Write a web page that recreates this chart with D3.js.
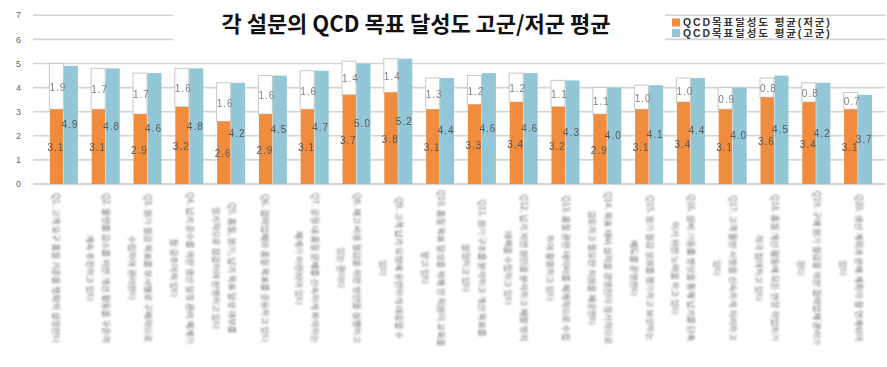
<!DOCTYPE html>
<html><head><meta charset="utf-8">
<script src="https://cdn.jsdelivr.net/npm/d3@7/dist/d3.min.js"></script>
<style>
html,body{margin:0;padding:0;background:#fff;}
svg{display:block;}
</style></head>
<body><svg id="chart" width="887" height="367"></svg>
<script>
const title = "각 설문의 QCD 목표 달성도 고군/저군 평균";
const seriesNames = ["QCD목표달성도 평균(저군)", "QCD목표달성도 평균(고군)"];
const categories = [
  "Q1. 고객 요구 품질 기준을 명확히 설정한다",
  "Q2. 불량률 감소를 위한 개선 활동을 꾸준히\n계속 추진하고 있다",
  "Q3. 원가 절감 목표를 부서별로 구체적으로\n수립하여 관리한다",
  "Q4. 납기 준수를 위한 생산 일정 관리 체계가\n잘 갖추어져 있다",
  "Q5. 품질, 원가, 납기 목표 달성 여부를\n정기적으로 점검하여 반영하고 있다",
  "Q6. 협력업체와 품질 목표를 공유하고 있다",
  "Q7. 공정 내 품질 문제를 신속하게 파악하는\n체계가 마련되어 있다",
  "Q8. 재고 비용 절감을 위한 방안을 실행하고\n있는 편이다",
  "Q9. 고객 납기 요청에 유연하게 대응할 수\n있다",
  "Q10. 품질 목표 달성을 위해 전 직원이 교육을\n받고 있다",
  "Q11. 원가 구조를 분석하고 개선 목표를\n설정하고 있다",
  "Q12. 납기 지연 원인을 분석하고 재발 방지\n대책을 수립하고 있다",
  "Q13. 품질 관련 데이터를 체계적으로 수집\n하여 활용하고 있다",
  "Q14. 목표 대비 실적을 경영진이 정기적으로\n검토하고 필요한 지원을 제공한다",
  "Q15. 원가 절감 성과를 평가하고 보상하는\n제도를 운영한다",
  "Q16. 설비 가동률 향상을 통해 납기를 단축\n하기 위한 노력을 하고 있다",
  "Q17. 고객 불만 사항을 신속하게 처리하고\n있다",
  "Q18. 품질 개선 활동에 모든 현장 작업자가\n적극 참여하고 있다",
  "Q19. 구매 원가 절감을 위한 협력업체 관리가\n된다",
  "Q20. 생산 계획과 판매 계획이 잘 연계되어\n있다"
];
const lowValues  = [3.1,3.1,2.9,3.2,2.6,2.9,3.1,3.7,3.8,3.1,3.3,3.4,3.2,2.9,3.1,3.4,3.1,3.6,3.4,3.1];
const highValues = [4.9,4.8,4.6,4.8,4.2,4.5,4.7,5.0,5.2,4.4,4.6,4.6,4.3,4.0,4.1,4.4,4.0,4.5,4.2,3.7];
const gapValues  = [1.9,1.7,1.7,1.6,1.6,1.6,1.6,1.4,1.4,1.3,1.2,1.2,1.1,1.1,1.0,1.0,0.9,0.8,0.8,0.7];
const yTicks = [0,1,2,3,4,5,6,7];

const colors = {low:"#F08C3E", high:"#93C6D6"};
const svg = d3.select("#chart");
const defs = svg.append("defs");
defs.append("filter").attr("id","blur").attr("x","-30%").attr("y","-5%").attr("width","160%").attr("height","110%")
  .append("feGaussianBlur").attr("stdDeviation",0.8);
defs.append("filter").attr("id","soft")
  .append("feGaussianBlur").attr("stdDeviation",0.35);

const y = d3.scaleLinear().domain([0,7]).range([184,15.3]);
const x = d3.scaleBand().domain(categories).range([43,879]).paddingInner(0.33).paddingOuter(0.165);
const xs = d3.scaleBand().domain(["low","high"]).range([0,x.bandwidth()]);

// gridlines
svg.append("g").selectAll("line").data(yTicks.slice(1)).join("line")
  .attr("x1",33).attr("x2",885)
  .attr("y1",d=>y(d)).attr("y2",d=>y(d))
  .attr("stroke","#d4d4d4").attr("stroke-width",1.6);
// axis baseline
svg.append("line").attr("x1",33).attr("x2",885).attr("y1",y(0)).attr("y2",y(0))
  .attr("stroke","#c4c4c4").attr("stroke-width",1.6);

// white title panel
svg.append("rect").attr("x",173).attr("y",4).attr("width",492).attr("height",48).attr("fill","#fff");

// y tick labels
svg.append("g").selectAll("text").data(yTicks).join("text")
  .attr("x",21).attr("y",d=>y(d)).attr("dy","0.35em").attr("text-anchor","end")
  .attr("font-family","Liberation Sans, Arial, sans-serif").attr("font-size",9)
  .attr("fill","#666").text(d=>d);

const idx = d3.range(categories.length);
const bars = svg.append("g");
bars.selectAll("rect.gap").data(idx).join("rect").attr("class","gap")
  .attr("x",i=>x(categories[i])+xs("low")-0.5)
  .attr("width",xs.bandwidth())
  .attr("y",i=>y(lowValues[i]+gapValues[i]))
  .attr("height",i=>y(lowValues[i])-y(lowValues[i]+gapValues[i]))
  .attr("fill","#fff").attr("stroke","#c8c8c8").attr("stroke-width",1);
bars.selectAll("rect.low").data(idx).join("rect").attr("class","low")
  .attr("x",i=>x(categories[i])+xs("low"))
  .attr("width",xs.bandwidth()-0.5)
  .attr("y",i=>y(lowValues[i]))
  .attr("height",i=>y(0)-y(lowValues[i]))
  .attr("fill",colors.low);
bars.selectAll("rect.high").data(idx).join("rect").attr("class","high")
  .attr("x",i=>x(categories[i])+xs("high"))
  .attr("width",xs.bandwidth())
  .attr("y",i=>y(highValues[i]))
  .attr("height",i=>y(0)-y(highValues[i]))
  .attr("fill",colors.high);

// value labels
const lab = svg.append("g").attr("font-family","Liberation Sans, Arial, sans-serif")
  .attr("font-size",10).attr("letter-spacing","1px").attr("text-anchor","middle").attr("filter","url(#soft)");
lab.selectAll("text.l").data(idx).join("text")
  .attr("x",i=>x(categories[i])+xs("low")+xs.bandwidth()/2-1)
  .attr("y",i=>(y(lowValues[i])+y(0))/2+1).attr("dy","0.35em")
  .attr("fill","#555").text(i=>lowValues[i].toFixed(1));
lab.selectAll("text.h").data(idx).join("text")
  .attr("x",i=>x(categories[i])+xs("high")+xs.bandwidth()/2-1)
  .attr("y",i=>(y(highValues[i])+y(0))/2).attr("dy","0.35em")
  .attr("fill","#555").text(i=>highValues[i].toFixed(1));
lab.selectAll("text.g").data(idx).join("text")
  .attr("x",i=>x(categories[i])+xs("low")+xs.bandwidth()/2+1)
  .attr("y",i=>(y(lowValues[i])+y(lowValues[i]+gapValues[i]))/2+1).attr("dy","0.35em")
  .attr("fill","#808080").text(i=>gapValues[i].toFixed(1));

// category labels (rotated, blurred as in the reference)
const cat = svg.append("g").attr("font-family","Noto Sans CJK KR, sans-serif").attr("font-size",8.5)
  .attr("fill","#666").attr("filter","url(#blur)");
categories.forEach((c,i)=>{
  const lines = c.split("\n");
  const cx = x(c)+x.bandwidth()/2-7.5;
  const n = lines.length;
  lines.forEach((ln,j)=>{
    const lx = cx + ((n-1)/2 - j)*16;
    cat.append("text").attr("transform",`translate(${lx},268) rotate(90)`)
      .attr("text-anchor","middle").attr("dy","0.35em").text(ln);
  });
});

// title
svg.append("text").attr("x",416).attr("y",32).attr("text-anchor","middle")
  .attr("font-family","Noto Sans CJK KR, sans-serif").attr("font-weight",700).attr("font-size",22)
  .attr("fill","#111").text(title);

// legend
const leg = svg.append("g").attr("font-family","Liberation Sans, Noto Sans CJK KR, sans-serif").attr("font-size",10.5)
  .attr("font-weight",700).attr("letter-spacing","1.9px").attr("fill","#333");
[colors.low, colors.high].forEach((col,k)=>{
  const cy = 22.5 + k*10.5;
  leg.append("rect").attr("x",672).attr("y",cy-4).attr("width",8).attr("height",8).attr("fill",col);
  leg.append("text").attr("x",683).attr("y",cy).attr("dy","0.35em").text(seriesNames[k]);
});
</script></body></html>
